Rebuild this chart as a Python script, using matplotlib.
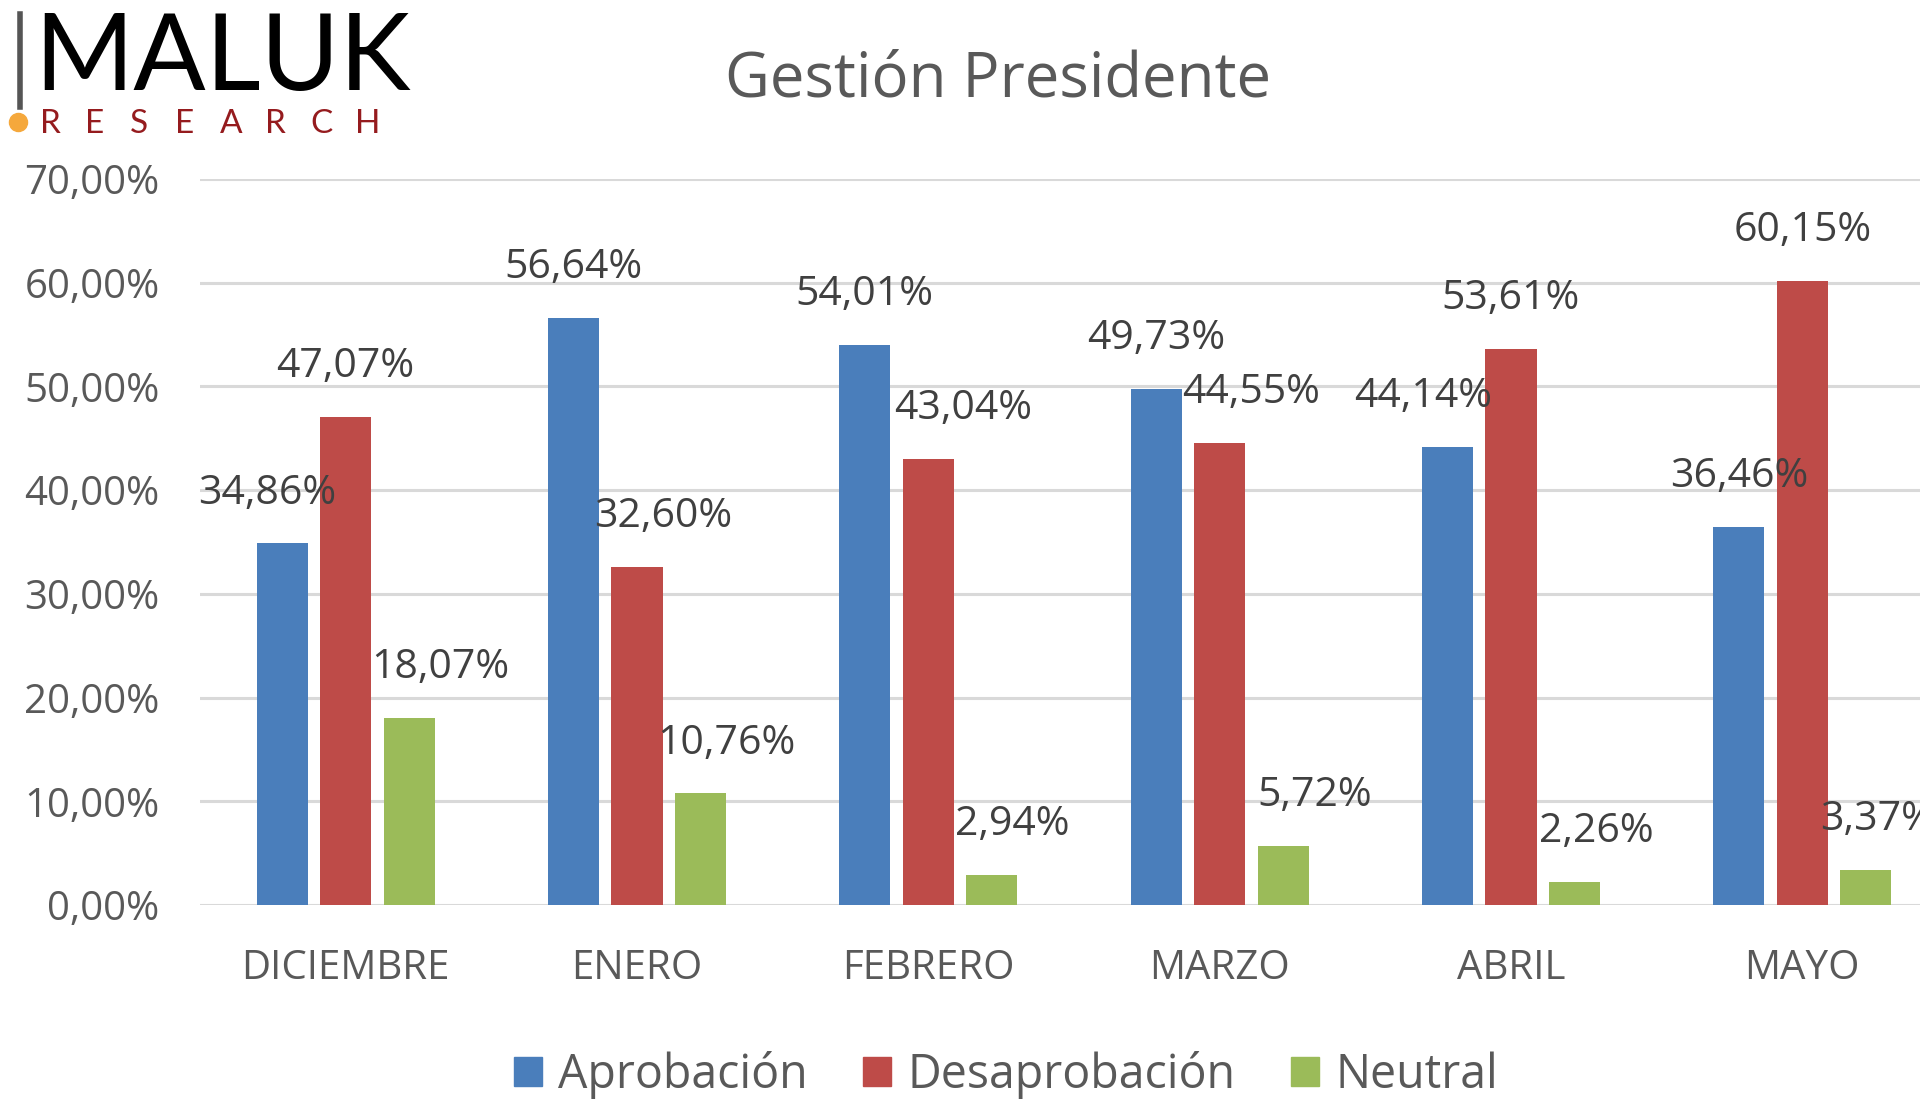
import matplotlib.pyplot as plt
import matplotlib.patches as mpatches
import numpy as np

meses = ["DICIEMBRE", "ENERO", "FEBRERO", "MARZO", "ABRIL", "MAYO"]
series = ["Aprobación", "Desaprobación", "Neutral"]
aprobacion = [34.86, 56.64, 54.01, 49.73, 44.14, 36.46]
desaprobacion = [47.07, 32.60, 43.04, 44.55, 53.61, 60.15]
neutral = [18.07, 10.76, 2.94, 5.72, 2.26, 3.37]
yticks = [0, 10, 20, 30, 40, 50, 60, 70]

colores = ["#4A7EBB", "#BE4B48", "#9BBB59"]
gris_txt = "#595959"
fuente = "Open Sans"

# desplazamientos horizontales de etiquetas (px), como Excel al evitar solapes
dx = [
    [-15, 0, 0, 0, -24, 0],
    [0, 26, 35, 31, 0, 0],
    [31, 26, 20, 32, 22, 12],
]

fig = plt.figure(figsize=(19.2, 11.02), dpi=100)
ax = fig.add_axes([200 / 1920, 1 - 905 / 1102, 1748 / 1920, 726 / 1102])

x = np.arange(len(meses))
w = 0.176
off = 0.218
datos = [aprobacion, desaprobacion, neutral]
for i, vals in enumerate(datos):
    pos = x + (i - 1) * off
    ax.bar(pos, vals, width=w, color=colores[i], zorder=3)
    for j, v in enumerate(vals):
        ax.annotate(f"{v:.2f}%".replace(".", ","), (pos[j], v),
                    xytext=(dx[i][j] * 0.72, 36), textcoords="offset points",
                    ha="center", va="center", fontsize=29.5, color="#404040",
                    family=fuente, zorder=4, annotation_clip=False)

ax.set_xlim(-0.5, len(meses) - 0.5)
ax.set_ylim(0, 70)
ax.set_yticks(yticks)
ax.set_yticklabels([f"{t:.2f}%".replace(".", ",") for t in yticks],
                   fontsize=29, color=gris_txt, family=fuente)
ax.set_xticks(x)
ax.set_xticklabels(meses, fontsize=29, color=gris_txt, family=fuente)
ax.tick_params(axis="y", length=0, pad=29)
ax.tick_params(axis="x", length=0, pad=31)
ax.yaxis.grid(True, color="#D9D9D9", linewidth=2.2, zorder=0)
for s in ax.spines.values():
    s.set_visible(False)

fig.text(998 / 1920, 1 - 80 / 1102, "Gestión Presidente", ha="center", va="center",
         fontsize=44.5, color=gris_txt, family=fuente)

handles = [mpatches.Patch(color=c, label=s) for c, s in zip(colores, series)]
fig.legend(handles=handles, loc="center", bbox_to_anchor=(1006 / 1920, 1 - 1075 / 1102),
           ncol=3, frameon=False, prop={"family": fuente, "size": 33.5},
           handlelength=0.6, handleheight=0.6, handletextpad=0.35, columnspacing=1.2,
           labelcolor=gris_txt)

# logo
fig.add_artist(plt.Line2D([20 / 1920, 20 / 1920], [1 - 14 / 1102, 1 - 107 / 1102],
                          color="#555555", linewidth=4))
fig.text(34 / 1920, 1 - 60 / 1102, "MALUK", ha="left", va="center",
         fontsize=77, color="black", family="Lato")
fig.add_artist(plt.Line2D([18 / 1920], [1 - 122 / 1102], marker="o", markersize=13,
                          color="#F5A83C", linestyle="none"))
letras = "RESEARCH"
for k, c in enumerate(letras):
    fig.text((40 + k * 45) / 1920, 1 - 124 / 1102, c, ha="left", va="center",
             fontsize=24, color="#951B1E", family="Lato")

fig.savefig("out.png", dpi=100)
